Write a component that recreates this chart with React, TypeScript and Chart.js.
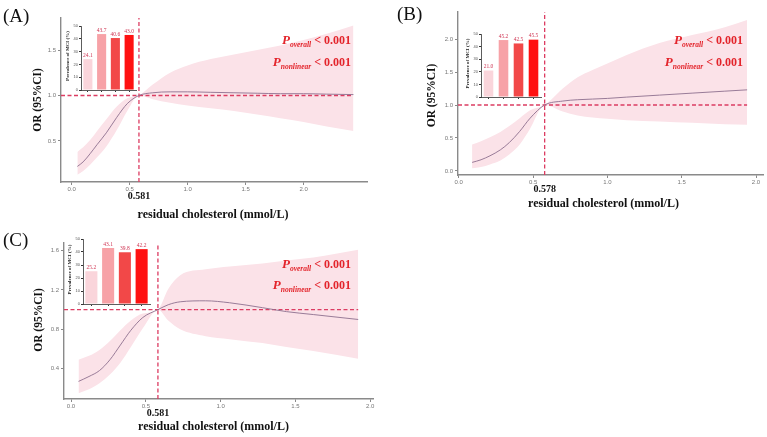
import React, { useEffect, useRef } from "react";
import { Chart, registerables } from "chart.js";

Chart.register(...registerables);

// ---- Panel A: spline of OR against residual cholesterol ----
const xA = [0.05, 0.10, 0.16, 0.22, 0.30, 0.39, 0.48, 0.581, 0.70, 0.85, 1.00, 1.20, 1.40, 1.60, 1.80, 2.00, 2.20, 2.43];
const orA = [0.22, 0.27, 0.36, 0.46, 0.59, 0.76, 0.91, 1.00, 1.03, 1.04, 1.04, 1.035, 1.03, 1.025, 1.02, 1.02, 1.015, 1.01];
const loA = [0.13, 0.17, 0.24, 0.32, 0.44, 0.62, 0.83, 1.00, 0.96, 0.92, 0.89, 0.86, 0.83, 0.79, 0.75, 0.71, 0.66, 0.61];
const hiA = [0.38, 0.43, 0.51, 0.61, 0.74, 0.88, 0.97, 1.00, 1.12, 1.25, 1.33, 1.40, 1.45, 1.50, 1.55, 1.61, 1.68, 1.77];
const refA = 0.581;
const prevA = [24.1, 43.7, 40.6, 43.0];
const yTicksA = [0.5, 1.0, 1.5];

// ---- Panel B ----
const xB = [0.09, 0.15, 0.21, 0.28, 0.34, 0.41, 0.48, 0.578, 0.70, 0.80, 0.90, 1.00, 1.13, 1.35, 1.57, 1.79, 1.94];
const orB = [0.13, 0.17, 0.23, 0.32, 0.43, 0.60, 0.80, 1.00, 1.06, 1.08, 1.09, 1.10, 1.12, 1.15, 1.18, 1.21, 1.23];
const loB = [0.04, 0.06, 0.10, 0.16, 0.25, 0.40, 0.64, 1.00, 0.90, 0.84, 0.81, 0.79, 0.77, 0.75, 0.73, 0.71, 0.70];
const hiB = [0.40, 0.45, 0.51, 0.59, 0.68, 0.80, 0.92, 1.00, 1.25, 1.42, 1.53, 1.63, 1.76, 1.94, 2.06, 2.18, 2.29];
const refB = 0.578;
const prevB = [21.0, 45.2, 42.5, 45.5];
const yTicksB = [0.0, 0.5, 1.0, 1.5, 2.0];

// ---- Panel C ----
const xC = [0.05, 0.12, 0.19, 0.26, 0.33, 0.40, 0.48, 0.581, 0.65, 0.73, 0.90, 1.06, 1.28, 1.44, 1.62, 1.92];
const orC = [0.27, 0.32, 0.38, 0.49, 0.64, 0.79, 0.92, 1.00, 1.05, 1.08, 1.09, 1.07, 1.02, 0.98, 0.95, 0.90];
const loC = [0.15, 0.19, 0.25, 0.34, 0.46, 0.62, 0.81, 1.00, 0.89, 0.80, 0.73, 0.70, 0.66, 0.62, 0.58, 0.50];
const hiC = [0.49, 0.53, 0.59, 0.68, 0.79, 0.89, 0.96, 1.00, 1.21, 1.35, 1.41, 1.44, 1.47, 1.50, 1.53, 1.61];
const refC = 0.581;
const prevC = [25.2, 43.1, 39.8, 42.2];
const yTicksC = [0.4, 0.8, 1.2, 1.6];

// shared
const xTicks = [0.0, 0.5, 1.0, 1.5, 2.0];
const groups = ["Q1", "Q2", "Q3", "Q4"];
const prevTicks = [0, 10, 20, 30, 40, 50];
const nullOR = 1.0;

const SERIF = '"Liberation Serif", "Times New Roman", serif';
const SANS = '"Liberation Sans", Arial, sans-serif';
const CURVE = "#8d6f8f";
const BAND = "#fbe2e8";
const DASH = "#dc3c62";
const AXIS = "#8a8a8a";
const PRED = "#e3242b";
const BAR_COLORS = ["#fad5db", "#f7a2a7", "#f24848", "#ff1111"];
const BAR_TEXT = "#cf3553";

type Box = { left: number; top: number; width: number; height: number };
type Pad = { left: number; top: number; right: number; bottom: number };

type SplineCfg = {
  xs: number[]; est: number[]; lo: number[]; hi: number[]; refX: number;
  xMin: number; xMax: number; yMin: number; yMax: number; yTicks: number[];
  box: Box; pad: Pad;
  yTitleDx: number; yTitleDy: number; xTitleDx: number; xTitleDy: number;
  pRight: number; p1: number; p2: number;
};

function drawP(ctx: CanvasRenderingContext2D, right: number, base: number, sub: string) {
  const fP = `italic bold 13px ${SERIF}`;
  const fS = `italic bold 7.5px ${SERIF}`;
  const fT = `bold 12px ${SERIF}`;
  const tail = " < 0.001";
  ctx.font = fP; const wP = ctx.measureText("P").width;
  ctx.font = fS; const wS = ctx.measureText(sub).width;
  ctx.font = fT; const wT = ctx.measureText(tail).width;
  let x = right - (wP + wS + wT);
  ctx.fillStyle = PRED;
  ctx.textAlign = "left";
  ctx.textBaseline = "alphabetic";
  ctx.font = fP; ctx.fillText("P", x, base); x += wP;
  ctx.font = fS; ctx.fillText(sub, x, base + 3); x += wS;
  ctx.font = fT; ctx.fillText(tail, x, base);
}

function SplinePanel({ cfg }: { cfg: SplineCfg }) {
  const ref = useRef<HTMLCanvasElement>(null);
  useEffect(() => {
    const c = ref.current!;
    const pts = (ys: number[]) => cfg.xs.map((x, i) => ({ x, y: ys[i] }));
    const labels = {
      id: "splineLabels",
      afterDraw(chart: any) {
        const { ctx, chartArea: ca, scales } = chart;
        ctx.save();
        // y-axis title
        ctx.save();
        ctx.translate(ca.left + cfg.yTitleDx, (ca.top + ca.bottom) / 2 + cfg.yTitleDy);
        ctx.rotate(-Math.PI / 2);
        ctx.font = `bold 11.5px ${SERIF}`;
        ctx.fillStyle = "#111";
        ctx.textAlign = "center";
        ctx.textBaseline = "middle";
        ctx.fillText("OR (95%CI)", 0, 0);
        ctx.restore();
        // x-axis title
        ctx.font = `bold 12px ${SERIF}`;
        ctx.fillStyle = "#111";
        ctx.textAlign = "center";
        ctx.textBaseline = "alphabetic";
        ctx.fillText("residual cholesterol (mmol/L)", (ca.left + ca.right) / 2 + cfg.xTitleDx, ca.bottom + cfg.xTitleDy);
        // reference value under the axis
        ctx.font = `bold 10px ${SERIF}`;
        ctx.fillText(cfg.refX.toFixed(3), scales.x.getPixelForValue(cfg.refX), ca.bottom + 17);
        // P values
        drawP(ctx, ca.right + cfg.pRight, ca.top + cfg.p1, "overall");
        drawP(ctx, ca.right + cfg.pRight, ca.top + cfg.p2, "nonlinear");
        ctx.restore();
      },
    };
    const chart = new Chart(c, {
      type: "line",
      data: {
        datasets: [
          {
            data: pts(cfg.est), borderColor: CURVE, borderWidth: 0.9, pointRadius: 0,
            cubicInterpolationMode: "monotone", fill: false,
          },
          {
            data: [{ x: cfg.refX, y: cfg.yMin }, { x: cfg.refX, y: cfg.yMax }],
            borderColor: DASH, borderWidth: 1.3, borderDash: [4, 2.5], pointRadius: 0, fill: false,
          },
          {
            data: [{ x: cfg.xMin, y: nullOR }, { x: cfg.xs[cfg.xs.length - 1], y: nullOR }],
            borderColor: DASH, borderWidth: 1.3, borderDash: [4, 2.5], pointRadius: 0, fill: false,
          },
          {
            data: pts(cfg.hi), borderColor: "rgba(0,0,0,0)", borderWidth: 0, pointRadius: 0,
            cubicInterpolationMode: "monotone", fill: "+1", backgroundColor: BAND,
          },
          {
            data: pts(cfg.lo), borderColor: "rgba(0,0,0,0)", borderWidth: 0, pointRadius: 0,
            cubicInterpolationMode: "monotone", fill: false,
          },
        ],
      } as any,
      options: {
        responsive: false,
        animation: false,
        layout: { padding: cfg.pad, autoPadding: false } as any,
        plugins: { legend: { display: false }, tooltip: { enabled: false } },
        scales: {
          x: {
            type: "linear", min: cfg.xMin, max: cfg.xMax,
            afterBuildTicks: (s: any) => { s.ticks = xTicks.map((v) => ({ value: v })); },
            afterFit: (s: any) => { s.height = 14; },
            grid: { display: true, drawOnChartArea: false, drawTicks: true, tickLength: 3, color: AXIS },
            border: { display: true, color: AXIS, width: 1.4 },
            ticks: {
              font: { size: 6, family: SANS }, color: "#777", padding: 1,
              maxRotation: 0, autoSkip: false, callback: (v: any) => Number(v).toFixed(1),
            },
          },
          y: {
            type: "linear", min: cfg.yMin, max: cfg.yMax,
            afterBuildTicks: (s: any) => { s.ticks = cfg.yTicks.map((v) => ({ value: v })); },
            afterFit: (s: any) => { s.width = 20; },
            grid: { display: true, drawOnChartArea: false, drawTicks: true, tickLength: 3, color: AXIS },
            border: { display: true, color: AXIS, width: 1.4 },
            ticks: {
              font: { size: 6, family: SANS }, color: "#777", padding: 2,
              autoSkip: false, callback: (v: any) => Number(v).toFixed(1),
            },
          },
        },
      } as any,
      plugins: [labels],
    });
    return () => chart.destroy();
  }, []);
  const b = cfg.box;
  return (
    <canvas
      ref={ref}
      width={b.width}
      height={b.height}
      style={{ position: "absolute", left: b.left, top: b.top, width: b.width, height: b.height }}
    />
  );
}

function PrevalenceInset({ values, box, pad, barPct }: { values: number[]; box: Box; pad: Pad; barPct: number }) {
  const ref = useRef<HTMLCanvasElement>(null);
  useEffect(() => {
    const c = ref.current!;
    const barText = {
      id: "barText",
      afterDraw(chart: any) {
        const { ctx, chartArea: ca } = chart;
        const meta = chart.getDatasetMeta(0);
        ctx.save();
        ctx.font = `5.5px ${SERIF}`;
        ctx.fillStyle = BAR_TEXT;
        ctx.textAlign = "center";
        ctx.textBaseline = "bottom";
        meta.data.forEach((bar: any, i: number) => {
          ctx.fillText(values[i].toFixed(1), bar.x, bar.y - 1);
        });
        ctx.translate(ca.left - 13, (ca.top + ca.bottom) / 2 - 2);
        ctx.rotate(-Math.PI / 2);
        ctx.font = `bold 5px ${SERIF}`;
        ctx.fillStyle = "#222";
        ctx.textBaseline = "middle";
        ctx.fillText("Prevalence of MCI (%)", 0, 0);
        ctx.restore();
      },
    };
    const chart = new Chart(c, {
      type: "bar",
      data: {
        labels: groups,
        datasets: [{ data: values, backgroundColor: BAR_COLORS, barPercentage: barPct, categoryPercentage: 1 }],
      },
      options: {
        responsive: false,
        animation: false,
        layout: { padding: pad, autoPadding: false } as any,
        plugins: { legend: { display: false }, tooltip: { enabled: false } },
        scales: {
          x: {
            afterFit: (s: any) => { s.height = 4; },
            grid: { display: true, drawOnChartArea: false, offset: false, drawTicks: true, tickLength: 2, color: "#333" },
            border: { display: true, color: "#333", width: 0.8 },
            ticks: { display: false },
          },
          y: {
            min: 0, max: 50,
            afterBuildTicks: (s: any) => { s.ticks = prevTicks.map((v) => ({ value: v })); },
            afterFit: (s: any) => { s.width = 10; },
            grid: { display: true, drawOnChartArea: false, drawTicks: true, tickLength: 2, color: "#333" },
            border: { display: true, color: "#333", width: 0.8 },
            ticks: { font: { size: 4, family: SANS }, color: "#555", padding: 1, autoSkip: false },
          },
        },
      } as any,
      plugins: [barText],
    });
    return () => chart.destroy();
  }, []);
  return (
    <canvas
      ref={ref}
      width={box.width}
      height={box.height}
      style={{ position: "absolute", left: box.left, top: box.top, width: box.width, height: box.height }}
    />
  );
}

const panelA: SplineCfg = {
  xs: xA, est: orA, lo: loA, hi: hiA, refX: refA,
  xMin: -0.091, xMax: 2.547, yMin: 0.049, yMax: 1.852, yTicks: yTicksA,
  box: { left: 0, top: 0, width: 383, height: 222 },
  pad: { left: 41, top: 18, right: 16, bottom: 26 },
  yTitleDx: -23, yTitleDy: 0, xTitleDx: -1, xTitleDy: 36,
  pRight: -16, p1: 26, p2: 48,
};

const panelB: SplineCfg = {
  xs: xB, est: orB, lo: loB, hi: hiB, refX: refB,
  xMin: -0.005, xMax: 2.047, yMin: -0.061, yMax: 2.41, yTicks: yTicksB,
  box: { left: 383, top: 0, width: 384, height: 215 },
  pad: { left: 55, top: 12, right: 4, bottom: 26 },
  yTitleDx: -26, yTitleDy: 2, xTitleDx: -7, xTitleDy: 32,
  pRight: -20, p1: 32, p2: 54,
};

const panelC: SplineCfg = {
  xs: xC, est: orC, lo: loC, hi: hiC, refX: refC,
  xMin: -0.047, xMax: 2.019, yMin: 0.091, yMax: 1.678, yTicks: yTicksC,
  box: { left: 0, top: 222, width: 383, height: 215 },
  pad: { left: 44, top: 21, right: 10, bottom: 24 },
  yTitleDx: -25, yTitleDy: -1, xTitleDx: -5, xTitleDy: 31,
  pRight: -22, p1: 25, p2: 46,
};

const letterStyle = (left: number, top: number): React.CSSProperties => ({
  position: "absolute", left, top, fontFamily: SERIF, fontSize: 19, lineHeight: "19px", color: "#111",
});

export default function App() {
  return (
    <div style={{ position: "absolute", left: 0, top: 0, width: 767, height: 437, background: "#fff", overflow: "hidden" }}>
      <SplinePanel cfg={panelA} />
      <SplinePanel cfg={panelB} />
      <SplinePanel cfg={panelC} />
      <PrevalenceInset values={prevA} box={{ left: 62, top: 16, width: 78, height: 80 }} pad={{ left: 9, top: 10, right: 4, bottom: 2 }} barPct={0.66} />
      <PrevalenceInset values={prevB} box={{ left: 462, top: 24, width: 82, height: 78 }} pad={{ left: 9, top: 10, right: 3, bottom: 1 }} barPct={0.64} />
      <PrevalenceInset values={prevC} box={{ left: 64, top: 229, width: 90, height: 80 }} pad={{ left: 9, top: 10, right: 4, bottom: 1 }} barPct={0.72} />
      <div style={letterStyle(3, 6)}>(A)</div>
      <div style={letterStyle(397, 4)}>(B)</div>
      <div style={letterStyle(3, 230)}>(C)</div>
    </div>
  );
}
